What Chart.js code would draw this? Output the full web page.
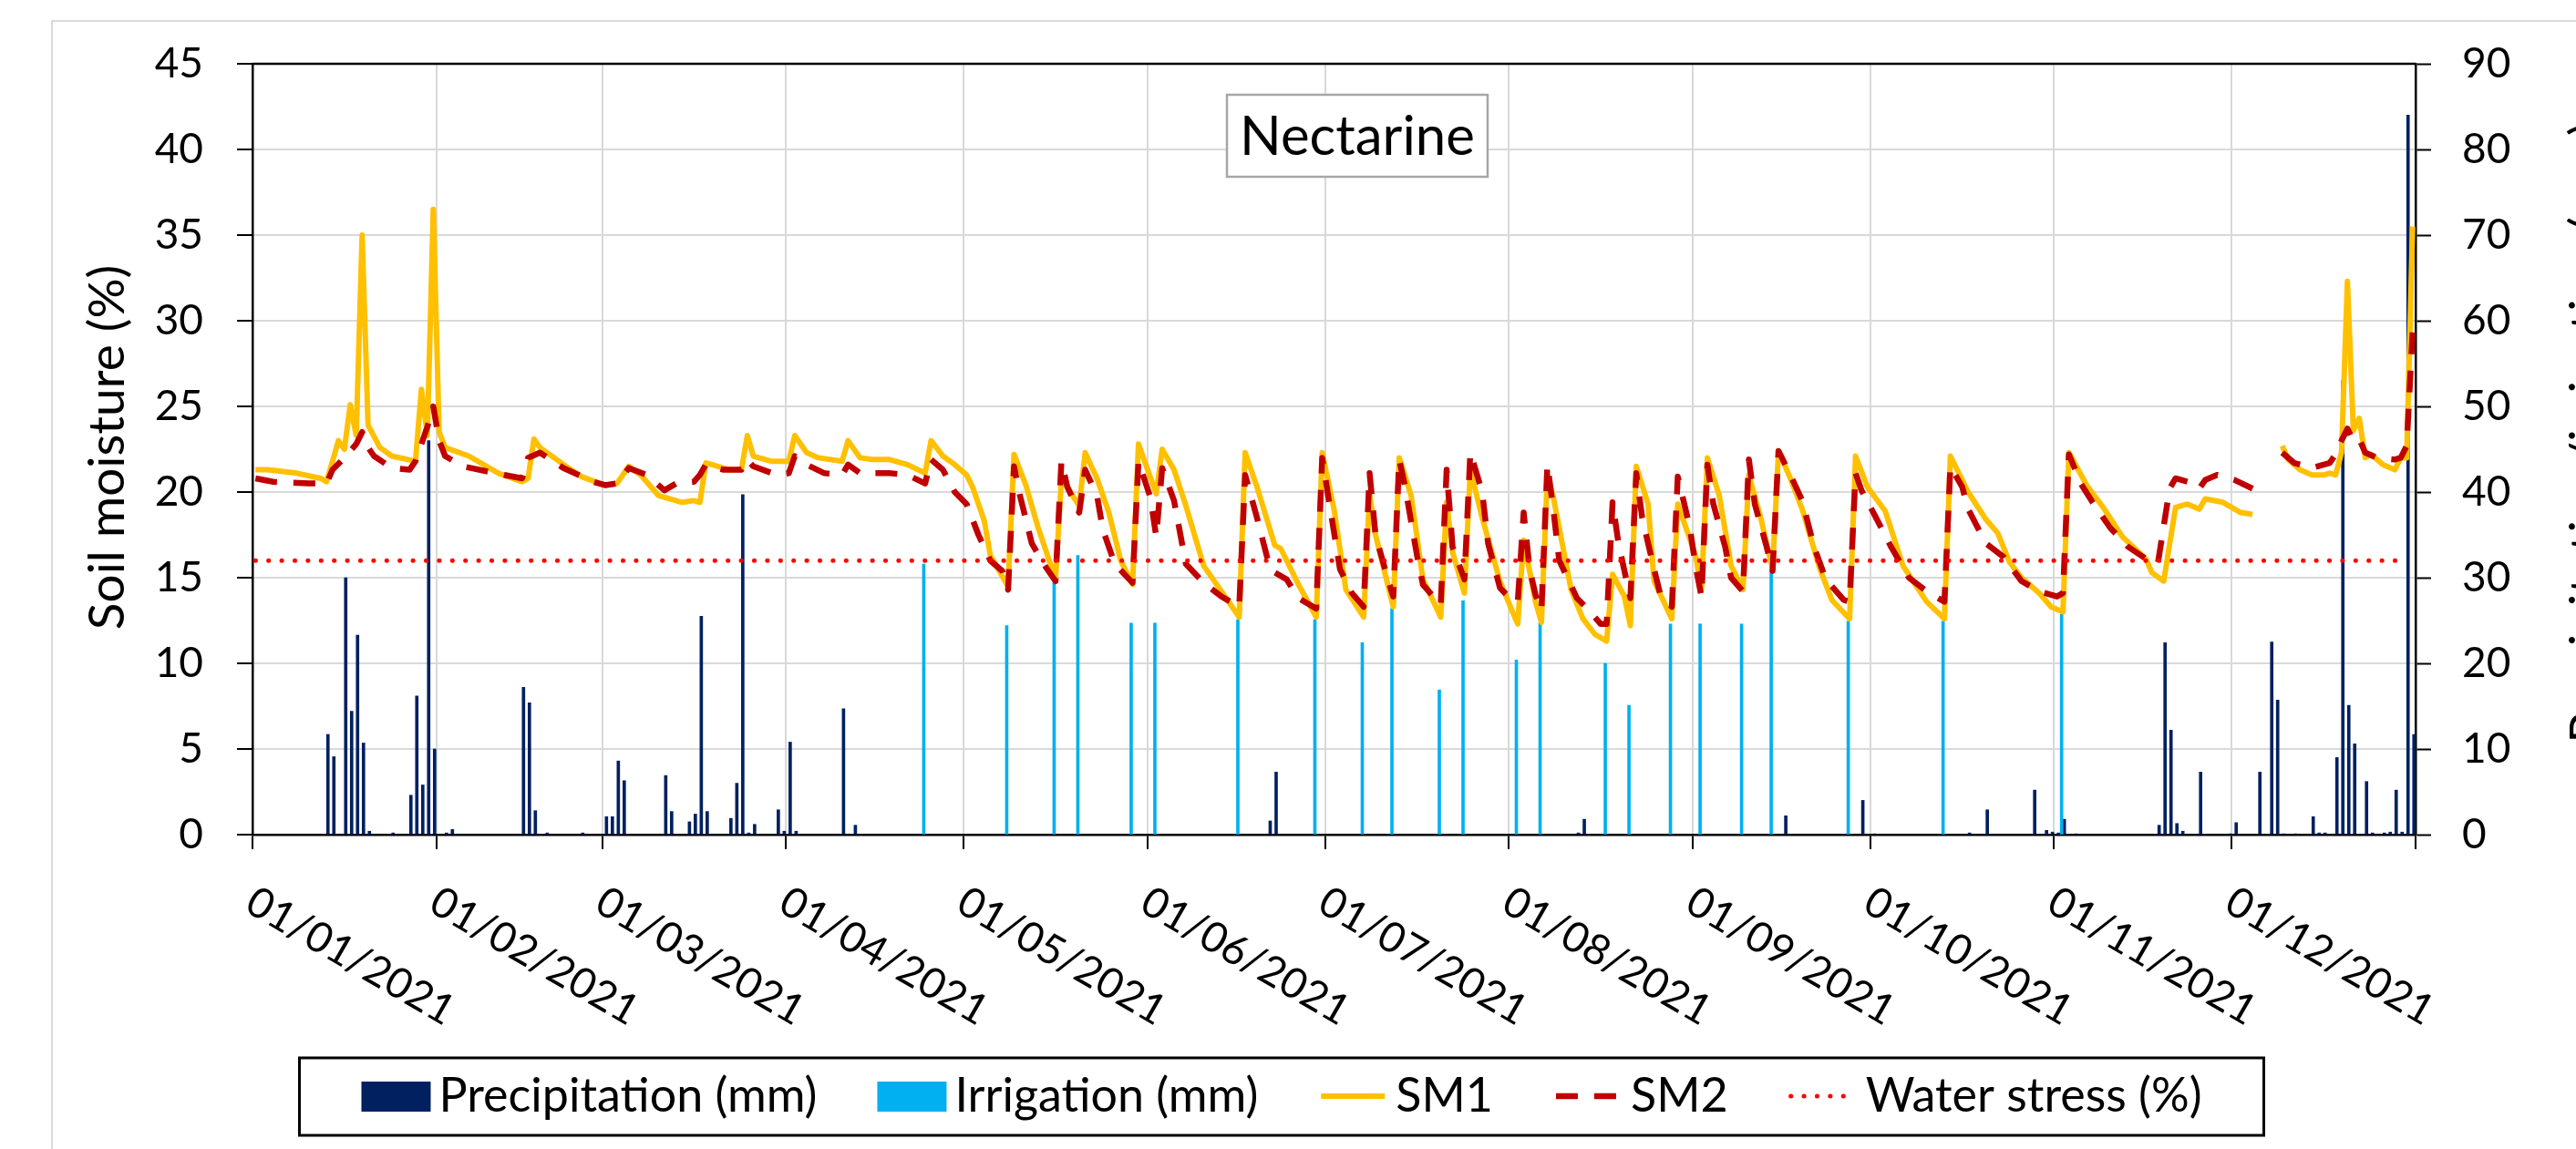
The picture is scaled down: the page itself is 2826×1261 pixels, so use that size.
<!DOCTYPE html>
<html>
<head>
<meta charset="utf-8">
<script src="https://cdn.jsdelivr.net/npm/chart.js@4.4.1/dist/chart.umd.min.js"></script>
<style>
  html, body { margin: 0; padding: 0; background: #fff; overflow: hidden; }
  canvas { display: block; }
</style>
</head>
<body>
<canvas id="soil-chart" width="2826" height="1261"></canvas>
<script>
// x axis: first day of each month (day of year) and its label
const monthStartDays = [1, 32, 60, 91, 121, 152, 182, 213, 244, 274, 305, 335];
const monthLabels = [
    "01/01/2021", "01/02/2021", "01/03/2021", "01/04/2021", "01/05/2021", "01/06/2021",
    "01/07/2021", "01/08/2021", "01/09/2021", "01/10/2021", "01/11/2021", "01/12/2021",
];

// SM1 (%), day of year -> value, null = no data
const sm1Days = [
    1, 3, 8, 12, 13, 15, 16, 17, 18, 19, 20, 22, 24, 28, 29, 30, 31, 32, 33, 37,
    42, 46, 47, 48, 49, 53, 56, 60, 62, 64, 66, 69, 73, 75, 76, 77, 78, 81, 83, 84,
    85, 88, 91, 92, 94, 96, 100, 101, 103, 105, 108, 111, 114, 115, 117, 119, 121, 122, 124, 125,
    128, 129, 131, 133, 136, 137, 140, 141, 143, 145, 147, 149, 150, 153, 154, 156, 158, 161, 164, 167,
    168, 170, 173, 174, 177, 180, 181, 183, 185, 188, 189, 190, 193, 194, 196, 198, 201, 202, 203, 205,
    206, 208, 211, 213, 214, 215, 217, 218, 219, 220, 223, 225, 227, 229, 230, 232, 233, 234, 236, 237,
    240, 241, 244, 245, 246, 248, 250, 252, 253, 255, 257, 258, 260, 262, 265, 267, 270, 271, 273, 276,
    279, 283, 286, 287, 290, 293, 295, 297, 299, 302, 304, 306, 307, 310, 313, 316, 320, 321, 323, 325,
    327, 329, 330, 333, 336, 338, 340, 343, 344, 346, 348, 350, 351, 352, 353, 354, 355, 356, 357, 358,
    360, 362, 363, 364, 365,
];
const sm1Values = [
    21.3, 21.3, 21.1, 20.8, 20.6, 23.0, 22.5, 25.1, 23.3, 35.0, 23.9, 22.6, 22.1, 21.8, 26.0, 23.3, 36.5, 23.5, 22.6, 22.1,
    21.1, 20.6, 20.8, 23.1, 22.6, 21.6, 20.9, 20.4, 20.5, 21.5, 21.0, 19.8, 19.4, 19.5, 19.4, 21.7, 21.6, 21.3, 21.3, 23.3,
    22.1, 21.8, 21.8, 23.3, 22.3, 22.0, 21.8, 23.0, 22.0, 21.9, 21.9, 21.6, 21.1, 23.0, 22.1, 21.6, 21.0, 20.3, 18.3, 16.3,
    14.5, 22.2, 20.4, 18.0, 14.9, 20.8, 19.2, 22.3, 20.8, 18.8, 16.0, 14.6, 22.8, 19.9, 22.5, 21.3, 19.2, 15.7, 14.2, 12.7,
    22.3, 20.3, 16.9, 16.7, 14.6, 12.7, 22.3, 19.0, 14.3, 12.7, 19.9, 17.5, 13.3, 22.0, 19.8, 14.9, 12.7, 19.4, 16.5, 14.1,
    21.3, 18.5, 14.8, 13.1, 12.3, 17.2, 13.6, 12.4, 21.0, 19.7, 14.3, 12.6, 11.7, 11.3, 15.2, 13.9, 12.2, 21.5, 19.3, 14.8,
    12.6, 19.3, 16.3, 14.3, 22.0, 19.8, 15.7, 14.3, 21.0, 18.5, 15.5, 22.4, 20.8, 19.0, 15.5, 13.7, 12.6, 22.1, 20.3, 18.9,
    15.7, 13.6, 12.6, 22.1, 20.0, 18.4, 17.6, 15.9, 15.0, 14.1, 13.3, 13.0, 22.3, 20.4, 19.0, 17.4, 16.1, 15.3, 14.8, 19.1,
    19.3, 19.0, 19.6, 19.4, 18.8, 18.7, null, 22.7, 21.9, 21.3, 21.0, 21.0, 21.1, 21.0, 22.3, 32.3, 23.6, 24.3, 22.0, 22.2,
    21.6, 21.3, 22.0, 22.0, 35.5,
];

// SM2 (%)
const sm2Days = [
    1, 4, 10, 13, 14, 16, 18, 19, 20, 21, 24, 27, 28, 29, 30, 31, 32, 33, 36, 43,
    46, 47, 49, 53, 58, 60, 62, 64, 67, 70, 72, 75, 76, 77, 80, 83, 84, 85, 89, 91,
    92, 94, 97, 100, 101, 103, 108, 111, 114, 115, 117, 119, 121, 123, 125, 127, 128, 129, 130, 132,
    134, 136, 137, 138, 140, 141, 143, 144, 146, 149, 150, 152, 153, 154, 156, 158, 161, 164, 167, 168,
    170, 172, 173, 175, 177, 180, 181, 182, 184, 186, 188, 189, 190, 192, 193, 194, 195, 197, 198, 201,
    202, 203, 205, 206, 208, 209, 211, 213, 214, 215, 216, 217, 218, 219, 220, 221, 224, 226, 228, 229,
    230, 231, 233, 234, 235, 237, 238, 240, 241, 243, 244, 245, 246, 247, 249, 250, 252, 253, 254, 256,
    257, 258, 260, 262, 264, 266, 269, 270, 271, 272, 274, 277, 280, 283, 286, 287, 289, 290, 293, 296,
    299, 302, 305, 306, 307, 309, 311, 314, 317, 320, 322, 324, 325, 328, 329, 330, 332, 335, 338, 340,
    343, 345, 348, 351, 352, 353, 354, 355, 356, 357, 359, 362, 363, 364, 365,
];
const sm2Values = [
    20.8, 20.6, 20.5, 20.5, 21.3, 22.0, 22.8, 23.5, 22.6, 22.1, 21.4, 21.3, 21.8, 22.8, 23.8, 25.0, 23.0, 22.1, 21.5, 21.0,
    20.8, 22.0, 22.3, 21.4, 20.6, 20.4, 20.5, 21.4, 21.0, 20.1, 20.5, 20.6, 21.0, 21.6, 21.3, 21.3, 21.9, 21.5, 21.0, 21.1,
    22.1, 21.6, 21.1, 21.0, 21.6, 21.1, 21.1, 21.0, 20.5, 21.9, 21.3, 20.0, 19.3, 17.5, 16.0, 15.4, 14.3, 21.5, 19.8, 17.0,
    15.8, 14.8, 21.8, 20.3, 18.8, 21.3, 19.8, 17.8, 15.8, 14.7, 21.8, 19.7, 17.4, 21.4, 19.5, 15.8, 14.7, 13.9, 13.3, 21.0,
    18.5, 15.8, 15.3, 14.9, 13.8, 13.2, 22.0, 19.8, 15.5, 14.1, 13.3, 21.1, 17.5, 15.0, 13.9, 21.9, 20.3, 16.3, 14.6, 13.4,
    21.3, 16.8, 14.9, 22.3, 20.0, 17.0, 14.4, 13.7, 13.6, 18.8, 15.5, 14.0, 13.1, 21.6, 19.0, 16.0, 13.8, 13.1, 12.3, 12.3,
    19.4, 17.0, 13.8, 21.1, 18.5, 15.5, 14.1, 13.3, 20.9, 18.0, 15.7, 13.9, 21.6, 19.3, 16.8, 15.0, 14.2, 21.9, 19.3, 16.8,
    15.4, 22.4, 21.0, 19.5, 16.8, 14.9, 13.7, 13.6, 21.1, 20.1, 18.8, 16.8, 15.0, 14.2, 13.6, 21.5, 20.3, 19.0, 17.0, 16.2,
    14.8, 14.2, 13.9, 14.1, 22.2, 20.5, 19.4, 17.9, 16.8, 16.1, 15.8, 20.2, 20.8, 20.5, 20.2, 20.7, 21.0, 20.7, 20.2, null,
    22.3, 21.7, 21.4, 21.7, 22.2, 23.0, 23.7, 23.0, 23.1, 22.3, 22.0, 21.9, 22.0, 22.7, 29.4,
];

// Precipitation (mm), day of year -> value
const precipDays = [
    13, 14, 16, 17, 18, 19, 20, 24, 27, 28, 29, 30, 31, 33, 34, 46, 47, 48, 50, 56,
    60, 61, 62, 63, 70, 71, 74, 75, 76, 77, 81, 82, 83, 84, 85, 89, 90, 91, 92, 100,
    102, 172, 173, 224, 225, 259, 272, 274, 290, 293, 301, 303, 304, 305, 306, 308, 322, 323, 324, 325,
    326, 329, 334, 335, 339, 341, 342, 343, 345, 348, 349, 350, 352, 353, 354, 355, 357, 358, 360, 361,
    362, 363, 364, 365,
];
const precipValues = [
    11.7, 9.1, 30.0, 14.4, 23.3, 10.7, 0.4, 0.2, 4.6, 16.2, 5.8, 46.0, 10.0, 0.2, 0.6, 17.2, 15.4, 2.8, 0.2, 0.2,
    2.1, 2.1, 8.6, 6.3, 6.9, 2.7, 1.5, 2.4, 25.5, 2.7, 1.9, 6.0, 39.7, 0.2, 1.2, 2.9, 0.4, 10.8, 0.4, 14.7,
    1.1, 1.6, 7.3, 0.2, 1.8, 2.2, 4.0, 0.1, 0.2, 2.9, 5.2, 0.5, 0.3, 0.2, 1.8, 0.1, 1.1, 22.4, 12.2, 1.3,
    0.4, 7.3, 0.1, 1.4, 7.3, 22.5, 15.7, 0.1, 0.1, 2.1, 0.2, 0.2, 9.0, 53.0, 15.1, 10.6, 6.2, 0.2, 0.2, 0.3,
    5.2, 0.3, 84.0, 11.7,
];

// Irrigation (mm)
const irrigDays = [
    114, 128, 136, 140, 149, 153, 167, 180, 188, 193, 201, 205, 214, 218, 229, 233, 240, 245, 252, 257,
    270, 286, 306,
];
const irrigValues = [
    31.6, 24.4, 29.8, 32.6, 24.7, 24.7, 25.1, 25.1, 22.4, 26.4, 16.9, 27.3, 20.4, 24.7, 20.0, 15.1, 24.6, 24.6, 24.6, 30.8,
    24.9, 24.9, 25.7,
];

// Water stress threshold (%)
const stressDays = [1, 364];
const stressValues = [16, 16];

const FONT = 'Lato, "Noto Sans", sans-serif';
const TICK_SIZE = 46;

// each daily value sits in the middle of its day slot
const toPoints = (days, values) =>
    days.map((d, i) => ({ x: d - 0.5, y: values[i] }));

const decorPlugin = {
    id: "decor",
    beforeDraw(chart) {
        const { ctx } = chart;
        ctx.save();
        ctx.strokeStyle = "#d9d9d9";
        ctx.lineWidth = 2;
        ctx.strokeRect(57, 23, 2900, 1400);
        ctx.restore();
    },
    afterDraw(chart) {
        const { ctx, chartArea } = chart;
        const xs = chart.scales.x;
        ctx.save();

        // top frame line of the plot
        ctx.strokeStyle = "#000";
        ctx.lineWidth = 2.5;
        ctx.beginPath();
        ctx.moveTo(chartArea.left, chartArea.top);
        ctx.lineTo(chartArea.right, chartArea.top);
        ctx.stroke();

        ctx.fillStyle = "#000";

        // boxed title inside the plot
        ctx.font = `60px ${FONT}`;
        const title = "Nectarine";
        const tw = ctx.measureText(title).width;
        const bw = tw + 28, bh = 90, bcx = 1489, bcy = 149;
        ctx.fillStyle = "#fff";
        ctx.fillRect(bcx - bw / 2, bcy - bh / 2, bw, bh);
        ctx.strokeStyle = "#a6a6a6";
        ctx.lineWidth = 2.5;
        ctx.strokeRect(bcx - bw / 2, bcy - bh / 2, bw, bh);
        ctx.fillStyle = "#000";
        ctx.textAlign = "center";
        ctx.textBaseline = "middle";
        ctx.fillText(title, bcx, bcy + 2);

        // axis titles
        ctx.font = `55px ${FONT}`;
        ctx.textBaseline = "alphabetic";
        ctx.save();
        ctx.translate(136, 491);
        ctx.rotate(-Math.PI / 2);
        ctx.fillText("Soil moisture (%)", 0, 0);
        ctx.restore();
        ctx.save();
        ctx.translate(2858, 475);
        ctx.rotate(-Math.PI / 2);
        ctx.fillText("Precipitation/irrigation (mm)", 0, 0);
        ctx.restore();

        // rotated date labels
        ctx.font = `${TICK_SIZE}px ${FONT}`;
        ctx.textAlign = "left";
        ctx.textBaseline = "middle";
        monthStartDays.forEach((d, i) => {
            const px = xs.getPixelForValue(d - 1);
            ctx.save();
            ctx.translate(px - 3, 986);
            ctx.rotate(Math.PI / 6);
            ctx.fillText(monthLabels[i], 0, 0);
            ctx.restore();
        });

        // legend in a framed box
        ctx.font = `52px ${FONT}`;
        const keyW = 76, keyGap = 9, itemGap = 66, pad = 68;
        const items = chart.data.datasets.map((ds) => ({
            ds,
            w: keyW + keyGap + ctx.measureText(ds.label).width,
        }));
        const total = items.reduce((s, it) => s + it.w, 0) + itemGap * (items.length - 1);
        const boxW = total + pad * 2;
        const boxL = 1406 - boxW / 2;
        const boxT = 1161, boxH = 85, midY = 1203;
        ctx.strokeStyle = "#000";
        ctx.lineWidth = 3;
        ctx.strokeRect(boxL, boxT, boxW, boxH);
        let cx = boxL + pad;
        items.forEach(({ ds, w }) => {
            if (ds.type === "bar") {
                ctx.fillStyle = ds.backgroundColor;
                ctx.fillRect(cx, midY - 16, keyW, 33);
            } else {
                ctx.strokeStyle = ds.borderColor;
                ctx.lineWidth = ds.borderWidth;
                ctx.lineCap = ds.borderCapStyle || "butt";
                ctx.setLineDash(ds.borderDash || []);
                ctx.beginPath();
                ctx.moveTo(cx + 3, midY);
                ctx.lineTo(cx + keyW - 3, midY);
                ctx.stroke();
                ctx.setLineDash([]);
                ctx.lineCap = "butt";
            }
            ctx.fillStyle = "#000";
            ctx.fillText(ds.label, cx + keyW + keyGap, midY);
            cx += w + itemGap;
        });

        ctx.restore();
    },
};

const ctx = document.getElementById("soil-chart");

new Chart(ctx, {
    data: {
        datasets: [
            {
                type: "bar",
                label: "Precipitation (mm)",
                data: toPoints(precipDays, precipValues),
                backgroundColor: "#002060",
                barThickness: 3,
                yAxisID: "y1",
                order: 5,
            },
            {
                type: "bar",
                label: "Irrigation (mm)",
                data: toPoints(irrigDays, irrigValues),
                backgroundColor: "#00b0f0",
                barThickness: 3,
                yAxisID: "y1",
                order: 4,
            },
            {
                type: "line",
                label: "SM1",
                data: toPoints(sm1Days, sm1Values),
                borderColor: "#ffc000",
                borderWidth: 6,
                borderJoinStyle: "round",
                pointRadius: 0,
                yAxisID: "y",
                order: 3,
            },
            {
                type: "line",
                label: "SM2",
                data: toPoints(sm2Days, sm2Values),
                borderColor: "#c00000",
                borderWidth: 6.5,
                borderDash: [24, 18],
                borderJoinStyle: "round",
                pointRadius: 0,
                yAxisID: "y",
                order: 2,
            },
            {
                type: "line",
                label: "Water stress (%)",
                data: toPoints(stressDays, stressValues),
                borderColor: "#ff0000",
                borderWidth: 5,
                borderDash: [0.1, 14.3],
                borderCapStyle: "round",
                pointRadius: 0,
                yAxisID: "y",
                order: 1,
            },
        ],
    },
    options: {
        responsive: false,
        devicePixelRatio: 1,
        animation: false,
        layout: {
            padding: { top: 70, left: 0, right: 0, bottom: 0 },
        },
        scales: {
            x: {
                type: "linear",
                min: 0,
                max: 365,
                offset: false,
                afterBuildTicks: (scale) => {
                    scale.ticks = monthStartDays
                        .map((d) => ({ value: d - 1 }))
                        .concat([{ value: 365 }]);
                },
                ticks: { display: false },
                grid: {
                    offset: false,
                    color: "#d9d9d9",
                    lineWidth: 2,
                    tickColor: "#000",
                    tickLength: 16,
                    tickWidth: 2,
                },
                border: { color: "#000", width: 2.5 },
                afterFit: (scale) => {
                    scale.height = 1261 - 916;
                },
            },
            y: {
                position: "left",
                min: 0,
                max: 45,
                ticks: {
                    stepSize: 5,
                    color: "#000",
                    padding: 37,
                    font: { family: FONT, size: TICK_SIZE },
                },
                grid: {
                    color: "#d9d9d9",
                    lineWidth: 2,
                    tickColor: "#000",
                    tickLength: 17,
                    tickWidth: 2,
                },
                border: { color: "#000", width: 2.5 },
                afterFit: (scale) => {
                    scale.width = 277;
                },
            },
            y1: {
                position: "right",
                min: 0,
                max: 90,
                ticks: {
                    stepSize: 10,
                    color: "#000",
                    padding: 34,
                    font: { family: FONT, size: TICK_SIZE },
                },
                grid: {
                    drawOnChartArea: false,
                    tickColor: "#000",
                    tickLength: 17,
                    tickWidth: 2,
                },
                border: { color: "#000", width: 2.5 },
                afterFit: (scale) => {
                    scale.width = 2826 - 2650;
                },
            },
        },
        plugins: {
            legend: { display: false },
            tooltip: { enabled: false },
            title: { display: false },
        },
    },
    plugins: [decorPlugin],
});
</script>
</body>
</html>
